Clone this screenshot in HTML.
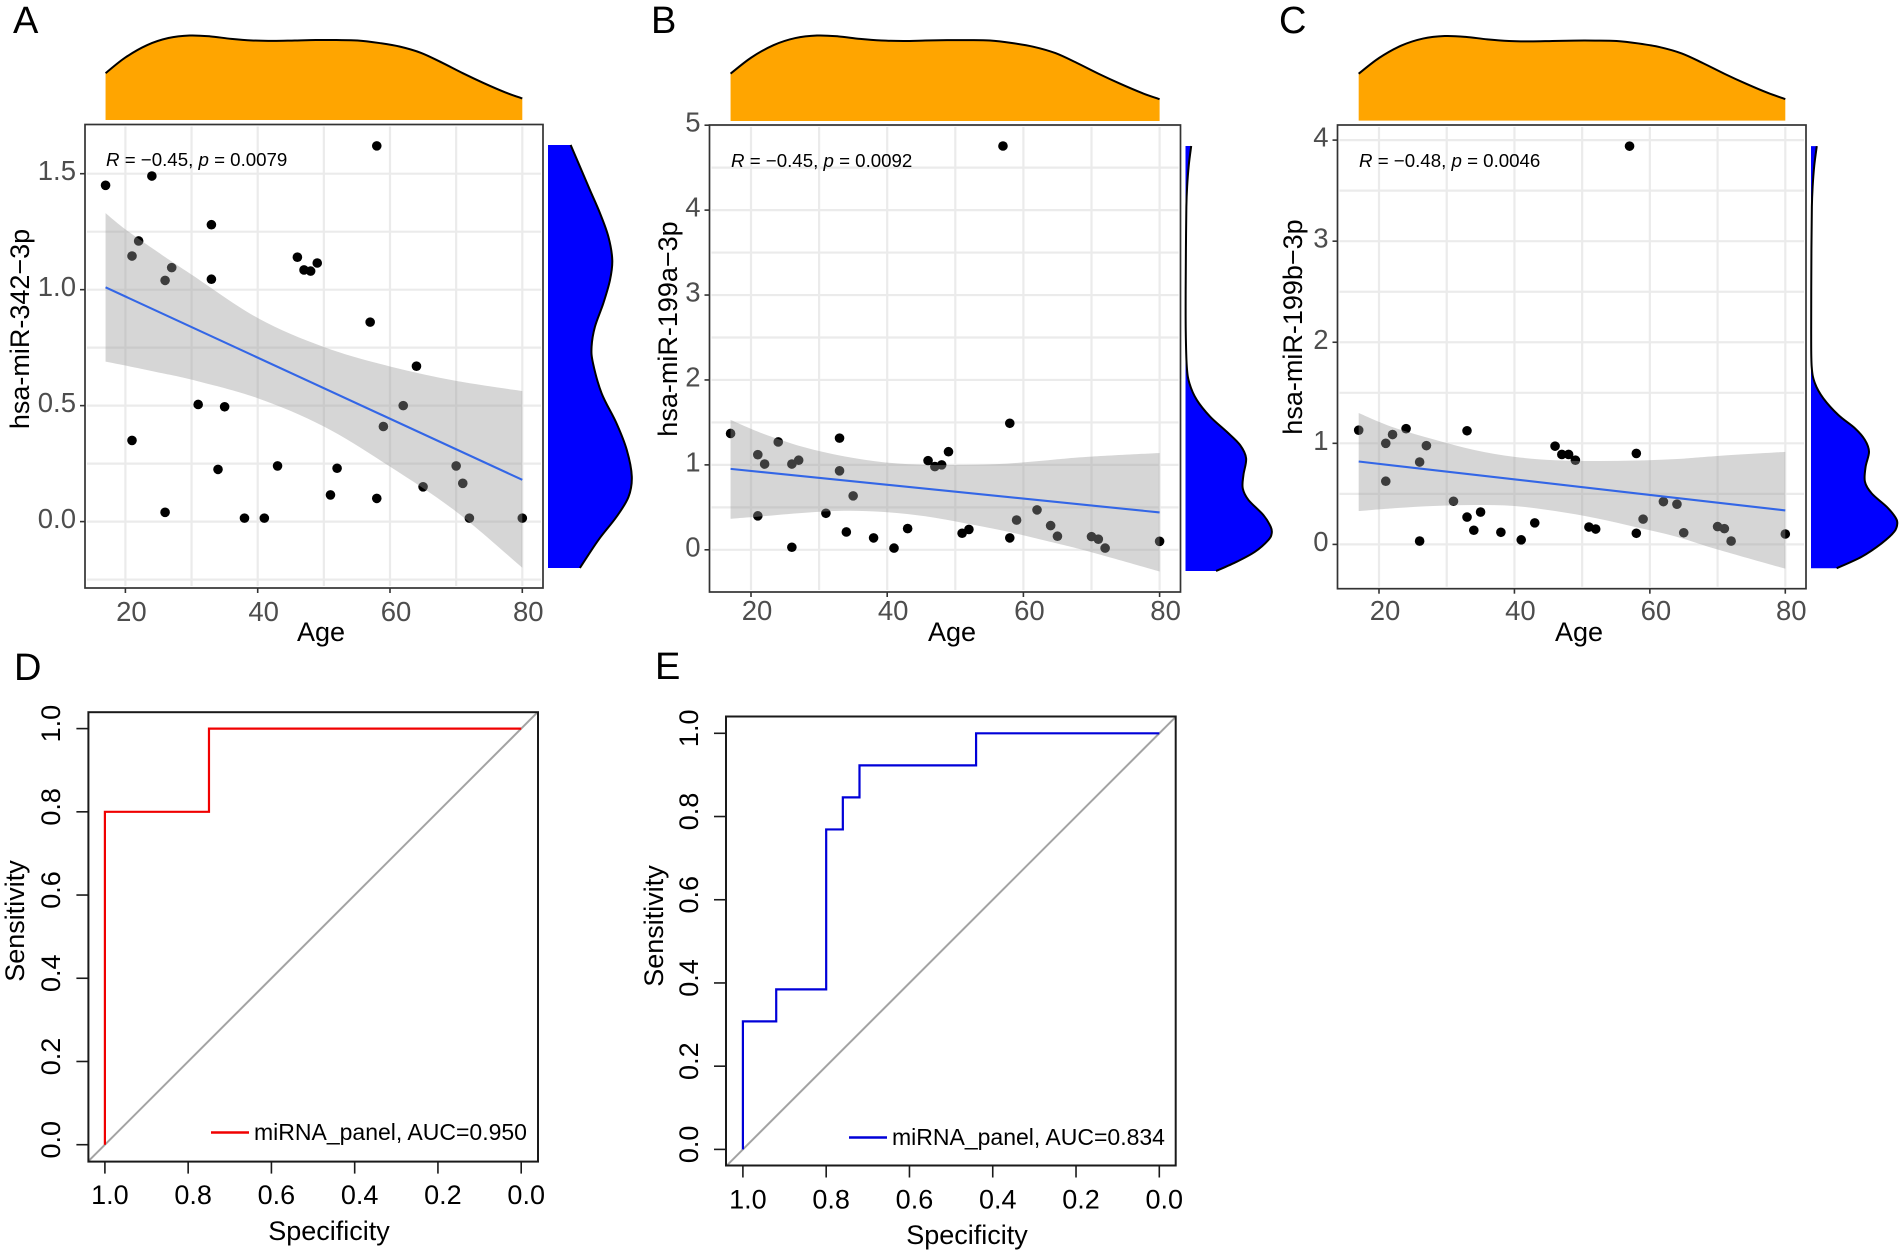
<!DOCTYPE html>
<html lang="en">
<head>
<meta charset="utf-8">
<title>miRNA correlation with age and ROC curves</title>
<style>
html,body{margin:0;padding:0;background:#fff;}
svg{display:block;font-family:"Liberation Sans",Arial,sans-serif;}
</style>
</head>
<body>
<svg id="figure" xmlns="http://www.w3.org/2000/svg" width="1902" height="1255" viewBox="0 0 1902 1255">
  <rect width="1902" height="1255" fill="#fff"/>
  <g id="plots"></g>

  <g font-size="38" fill="#000">
    <text x="13" y="33">A</text>
    <text x="651" y="33">B</text>
    <text x="1279" y="33">C</text>
    <text x="14" y="680">D</text>
    <text x="655" y="679">E</text>
  </g>

  <g font-size="27" fill="#000" text-anchor="middle">
    <text x="321" y="641">Age</text>
    <text x="952" y="641">Age</text>
    <text x="1579" y="641">Age</text>
    <text transform="translate(29 329) rotate(-90)">hsa-miR-342−3p</text>
    <text transform="translate(677 329) rotate(-90)">hsa-miR-199a−3p</text>
    <text transform="translate(1302 327) rotate(-90)">hsa-miR-199b−3p</text>
    <text x="329" y="1240">Specificity</text>
    <text x="967" y="1244">Specificity</text>
    <text transform="translate(24 921) rotate(-90)">Sensitivity</text>
    <text transform="translate(663 926) rotate(-90)">Sensitivity</text>
  </g>

  <g font-size="18.7" fill="#000">
    <text x="106" y="166"><tspan font-style="italic">R</tspan> = −0.45, <tspan font-style="italic">p</tspan> = 0.0079</text>
    <text x="731" y="167"><tspan font-style="italic">R</tspan> = −0.45, <tspan font-style="italic">p</tspan> = 0.0092</text>
    <text x="1359" y="167"><tspan font-style="italic">R</tspan> = −0.48, <tspan font-style="italic">p</tspan> = 0.0046</text>
  </g>

  <g font-size="23" fill="#000">
    <text x="254" y="1140">miRNA_panel, AUC=0.950</text>
    <text x="892" y="1145">miRNA_panel, AUC=0.834</text>
  </g>
  <line x1="211" y1="1132.5" x2="249" y2="1132.5" stroke="#f00000" stroke-width="2.5"/>
  <line x1="849" y1="1137.5" x2="887" y2="1137.5" stroke="#0000d8" stroke-width="2.5"/>
</svg>

<script>
// ---------- Data ----------
const ages = [17,21,21,22,24,26,26,27,31,33,33,34,35,38,41,43,46,47,48,49,51,52,57,58,58,59,62,64,65,70,71,72,80];
const values342 = [1.45,1.145,0.35,1.21,1.49,1.04,0.04,1.095,0.505,1.28,1.045,0.225,0.495,0.015,0.015,0.24,1.14,1.085,1.08,1.115,0.115,0.23,0.86,1.62,0.1,0.41,0.5,0.67,0.15,0.24,0.165,0.015,0.015];
const values199a = [1.37,1.12,0.4,1.01,1.27,1.01,0.03,1.055,0.43,1.315,0.93,0.21,0.635,0.14,0.02,0.25,1.05,0.98,1.0,1.155,0.195,0.24,4.755,1.49,0.14,0.35,0.47,0.285,0.16,0.155,0.125,0.02,0.1];
const values199b = [1.13,1.0,0.625,1.087,1.145,0.815,0.033,0.977,0.427,1.124,0.27,0.14,0.32,0.12,0.045,0.213,0.972,0.89,0.89,0.833,0.172,0.152,3.94,0.9,0.11,0.25,0.423,0.398,0.115,0.176,0.156,0.033,0.103];

const fitAges = [17,80];
const fit342 = [1.01,0.18];
const fit199a = [0.953,0.44];
const fit199b = [0.82,0.336];

const bandAges342 = [17,20,25,30,40,50,60,70,80];
const upper342 = [1.33,1.26,1.16,1.065,0.878,0.753,0.669,0.607,0.563];
const lower342 = [0.69,0.673,0.643,0.612,0.532,0.41,0.237,0.043,-0.199];

const bandAges199a = [17,21.7,27.7,33.7,39.6,45.6,51.6,57.6,63.6,69.6,80];
const upper199a = [1.53,1.37,1.21,1.1,1.03,1.0,1.0,1.015,1.055,1.095,1.14];
const lower199a = [0.365,0.395,0.435,0.46,0.445,0.395,0.31,0.215,0.1,-0.02,-0.255];

const bandAges199b = [17,22,28,34,40,46,52,58,64,70,80];
const upper199b = [1.3,1.16,1.04,0.935,0.866,0.833,0.825,0.83,0.845,0.875,0.915];
const lower199b = [0.33,0.357,0.38,0.39,0.38,0.33,0.26,0.17,0.075,-0.05,-0.24];

const ageDensityAges = [17,20,23.3,26.5,29.7,32.8,36,39.2,42.4,45.6,48.8,51.9,55.1,58.3,61.5,64.7,67.8,71,74.2,77.4,80];
const ageDensity = [0.554,0.74,0.887,0.97,1,0.99,0.96,0.941,0.936,0.941,0.946,0.946,0.941,0.912,0.868,0.794,0.681,0.554,0.436,0.328,0.255];

const densityLevels342 = [1.624,1.53,1.43,1.33,1.229,1.128,1.042,0.941,0.84,0.754,0.683,0.553,0.425,0.309,0.194,0.106,0.02,-0.08,-0.2];
const density342 = [0.27,0.382,0.5,0.62,0.72,0.767,0.74,0.66,0.56,0.52,0.537,0.64,0.816,0.94,1,0.96,0.816,0.6,0.38];

const densityLevels199a = [4.755,4.53,4.28,4.04,3.55,3.06,2.57,2.157,1.96,1.765,1.568,1.39,1.234,1.077,0.881,0.724,0.587,0.41,0.272,0.194,0.115,-0.022,-0.14,-0.25];
const density199a = [0.066,0.038,0.019,0.01,0.005,0.002,0.003,0.015,0.046,0.131,0.286,0.479,0.633,0.703,0.672,0.664,0.73,0.903,0.988,1,0.961,0.807,0.595,0.355];

const densityLevels199b = [3.94,3.75,3.54,3.34,2.93,2.11,1.758,1.593,1.445,1.28,1.148,1.033,0.917,0.769,0.62,0.505,0.373,0.274,0.209,0.126,0.011,-0.122,-0.236];
const density199b = [0.067,0.038,0.019,0.01,0.005,0.002,0.008,0.046,0.143,0.317,0.51,0.625,0.672,0.633,0.625,0.703,0.876,0.973,1,0.965,0.819,0.587,0.297];

const ageTicks = [20,40,60,80];
const ageMinorTicks = [30,50,70];
const ticks342 = [0,0.5,1,1.5];
const tickLabels342 = ["0.0","0.5","1.0","1.5"];
const minorTicks342 = [-0.25,0.25,0.75,1.25];
const ticks199a = [0,1,2,3,4,5];
const tickLabels199a = ["0","1","2","3","4","5"];
const minorTicks199a = [0.5,1.5,2.5,3.5,4.5];
const ticks199b = [0,1,2,3,4];
const tickLabels199b = ["0","1","2","3","4"];
const minorTicks199b = [0.5,1.5,2.5,3.5];

const rocTicks = [1,0.8,0.6,0.4,0.2,0];
const rocTickLabels = ["1.0","0.8","0.6","0.4","0.2","0.0"];
const rocSpecD = [1,1,0.75,0.75,0];
const rocSensD = [0,0.8,0.8,1,1];
const rocSpecE = [1,1,0.92,0.92,0.8,0.8,0.76,0.76,0.72,0.72,0.44,0.44,0];
const rocSensE = [0,0.3077,0.3077,0.3846,0.3846,0.769,0.769,0.846,0.846,0.923,0.923,1,1];

// ---------- Helpers ----------
const SVGNS = "http://www.w3.org/2000/svg";
const root = document.getElementById("plots");

function make(tag, attrs, parent) {
  const node = document.createElementNS(SVGNS, tag);
  for (const k in attrs) node.setAttribute(k, attrs[k]);
  parent.appendChild(node);
  return node;
}
function scale(d0, d1, r0, r1) {
  return v => r0 + (v - d0) * (r1 - r0) / (d1 - d0);
}
function smoothPath(pts, move) {
  let d = (move ? "M" : "L") + pts[0][0].toFixed(2) + " " + pts[0][1].toFixed(2);
  for (let i = 0; i < pts.length - 1; i++) {
    const p0 = pts[i - 1] || pts[i], p1 = pts[i], p2 = pts[i + 1], p3 = pts[i + 2] || p2;
    const c1x = p1[0] + (p2[0] - p0[0]) / 6, c1y = p1[1] + (p2[1] - p0[1]) / 6;
    const c2x = p2[0] - (p3[0] - p1[0]) / 6, c2y = p2[1] - (p3[1] - p1[1]) / 6;
    d += "C" + c1x.toFixed(2) + " " + c1y.toFixed(2) + " " + c2x.toFixed(2) + " " + c2y.toFixed(2) + " " + p2[0].toFixed(2) + " " + p2[1].toFixed(2);
  }
  return d;
}

// ---------- Scatter panels with marginal densities ----------
function drawScatter(cfg) {
  const g = make("g", {}, root);
  
  

  const x = scale(20, 80, cfg.x20, cfg.x80);
  const y = scale(cfg.yRef0, cfg.yRef1, cfg.yPx0, cfg.yPx1);

  // background grid
  cfg.yMinor.concat(cfg.yTicks).forEach(v => {
    const line = make("line", {x1: cfg.left + 2, x2: cfg.right - 2, y1: y(v), y2: y(v), stroke: "#ebebeb", "stroke-width": 2.2}, g);
    
    
  });
  ageMinorTicks.concat(ageTicks).forEach(v => {
    const line = make("line", {x1: x(v), x2: x(v), y1: cfg.top + 2, y2: cfg.bottom - 2, stroke: "#ebebeb", "stroke-width": 2.2}, g);
    
    
  });

  // points
  ages.forEach((a, i) => {
    const dot = make("circle", {cx: x(a), cy: y(cfg.values[i]), r: 4.8, fill: "#000"}, g);
    
    
  });

  // confidence band
  const up = cfg.bandAges.map((a, i) => [x(a), y(cfg.upper[i])]);
  const lo = cfg.bandAges.map((a, i) => [x(a), y(cfg.lower[i])]).reverse();
  const band = make("path", {d: smoothPath(up, true) + smoothPath(lo, false) + "Z", fill: "#999", "fill-opacity": 0.4}, g);
  
  

  // regression line
  const fit = make("line", {x1: x(fitAges[0]), y1: y(cfg.fit[0]), x2: x(fitAges[1]), y2: y(cfg.fit[1]), stroke: "#3366e6", "stroke-width": 2.1}, g);
  
  

  // panel border
  const border = make("rect", {x: cfg.left, y: cfg.top, width: cfg.right - cfg.left, height: cfg.bottom - cfg.top, fill: "none", stroke: "#333", "stroke-width": 1.7}, g);
  
  

  // x ticks
  ageTicks.forEach(v => {
    const tick = make("line", {x1: x(v), x2: x(v), y1: cfg.bottom, y2: cfg.bottom + 5, stroke: "#333", "stroke-width": 1.6}, g);
    
    
    const label = make("text", {x: x(v) + 6, y: cfg.tickBase, "font-size": 27.5, fill: "#4d4d4d", "text-anchor": "middle"}, g);
    label.textContent = String(v);
    
    
  });

  // y ticks
  cfg.yTicks.forEach((v, i) => {
    const tick = make("line", {x1: cfg.left - 5, x2: cfg.left, y1: y(v), y2: y(v), stroke: "#333", "stroke-width": 1.6}, g);
    
    
    const label = make("text", {x: cfg.left - 9, y: y(v) + 6.5, "font-size": 27.5, fill: "#4d4d4d", "text-anchor": "end"}, g);
    label.textContent = cfg.yLabels[i];
    
    
  });

  // top marginal density
  const topY = scale(0, 1, cfg.topBase, cfg.topPeak);
  const topPts = ageDensityAges.map((a, i) => [x(a), topY(ageDensity[i])]);
  const topArea = make("path", {d: "M" + x(17) + " " + cfg.topBase + smoothPath(topPts, false) + "L" + x(80) + " " + cfg.topBase + "Z", fill: "#ffa500"}, g);
  
  
  const topCurve = make("path", {d: smoothPath(topPts, true), fill: "none", stroke: "#000", "stroke-width": 2}, g);
  
  

  // right marginal density
  const rightX = scale(0, 1, cfg.rightBase, cfg.rightPeak);
  const rightPts = cfg.densLevels.map((v, i) => [rightX(cfg.dens[i]), y(v)]);
  const first = cfg.densLevels[0], last = cfg.densLevels[cfg.densLevels.length - 1];
  const rightArea = make("path", {d: "M" + cfg.rightBase + " " + y(first) + smoothPath(rightPts, false) + "L" + cfg.rightBase + " " + y(last) + "Z", fill: "#0000ff"}, g);
  
  
  const rightCurve = make("path", {d: smoothPath(rightPts, true), fill: "none", stroke: "#000", "stroke-width": 2}, g);
  
  
}

drawScatter({id: "a", left: 85, right: 543, top: 124.5, bottom: 588, x20: 125.4, x80: 522.3,
  yRef0: 0, yRef1: 1.5, yPx0: 521.6, yPx1: 173.7, tickBase: 621,
  yTicks: ticks342, yLabels: tickLabels342, yMinor: minorTicks342,
  values: values342, fit: fit342, bandAges: bandAges342, upper: upper342, lower: lower342,
  densLevels: densityLevels342, dens: density342,
  topBase: 120, topPeak: 35.5, rightBase: 548, rightPeak: 631.8});

drawScatter({id: "b", left: 709.5, right: 1180.5, top: 125, bottom: 592, x20: 751, x80: 1159.6,
  yRef0: 0, yRef1: 5, yPx0: 549.8, yPx1: 125.2, tickBase: 620,
  yTicks: ticks199a, yLabels: tickLabels199a, yMinor: minorTicks199a,
  values: values199a, fit: fit199a, bandAges: bandAges199a, upper: upper199a, lower: lower199a,
  densLevels: densityLevels199a, dens: density199a,
  topBase: 121, topPeak: 35.5, rightBase: 1185.5, rightPeak: 1271.7});

drawScatter({id: "c", left: 1337.5, right: 1806, top: 125, bottom: 588.7, x20: 1379, x80: 1785.3,
  yRef0: 0, yRef1: 4, yPx0: 544.4, yPx1: 140.1, tickBase: 620,
  yTicks: ticks199b, yLabels: tickLabels199b, yMinor: minorTicks199b,
  values: values199b, fit: fit199b, bandAges: bandAges199b, upper: upper199b, lower: lower199b,
  densLevels: densityLevels199b, dens: density199b,
  topBase: 120.6, topPeak: 36, rightBase: 1811, rightPeak: 1897.3});

// ---------- ROC panels ----------
function drawRoc(cfg) {
  const g = make("g", {}, root);
  
  

  const x = scale(1, 0, cfg.x1, cfg.x0);
  const y = scale(0, 1, cfg.y0, cfg.y1);

  const diag = make("line", {x1: x(1.04), y1: y(-0.04), x2: x(-0.04), y2: y(1.04), stroke: "#a3a3a3", "stroke-width": 2}, g);
  
  

  const pts = cfg.spec.map((s, i) => x(s).toFixed(2) + "," + y(cfg.sens[i]).toFixed(2)).join(" ");
  const curve = make("polyline", {points: pts, fill: "none", stroke: cfg.color, "stroke-width": 2.2}, g);
  
  

  const border = make("rect", {x: cfg.left, y: cfg.top, width: cfg.right - cfg.left, height: cfg.bottom - cfg.top, fill: "none", stroke: "#1a1a1a", "stroke-width": 2}, g);
  
  

  rocTicks.forEach((v, i) => {
    const xt = make("line", {x1: x(v), x2: x(v), y1: cfg.bottom, y2: cfg.bottom + 12, stroke: "#1a1a1a", "stroke-width": 1.6}, g);
    
    
    const xl = make("text", {x: x(v) + 5, y: cfg.xLabelBase, "font-size": 27, fill: "#000", "text-anchor": "middle"}, g);
    xl.textContent = rocTickLabels[i];
    
    

    const yt = make("line", {x1: cfg.left - 12, x2: cfg.left, y1: y(v), y2: y(v), stroke: "#1a1a1a", "stroke-width": 1.6}, g);
    
    
    const yl = make("text", {transform: "translate(" + cfg.yLabelBase + " " + (y(v) - 5) + ") rotate(-90)", "font-size": 27, fill: "#000", "text-anchor": "middle"}, g);
    yl.textContent = rocTickLabels[i];
    
    
  });
}

drawRoc({id: "d", left: 88.4, right: 538, top: 712.2, bottom: 1161.6, x1: 104.9, x0: 521.2, y0: 1144.7, y1: 728.6,
  spec: rocSpecD, sens: rocSensD, color: "#f00000", xLabelBase: 1204, yLabelBase: 60});

drawRoc({id: "e", left: 726, right: 1175.7, top: 716.5, bottom: 1165.5, x1: 742.9, x0: 1159.3, y0: 1149.4, y1: 733.3,
  spec: rocSpecE, sens: rocSensE, color: "#0000d8", xLabelBase: 1208.5, yLabelBase: 698});
</script>
</body>
</html>
